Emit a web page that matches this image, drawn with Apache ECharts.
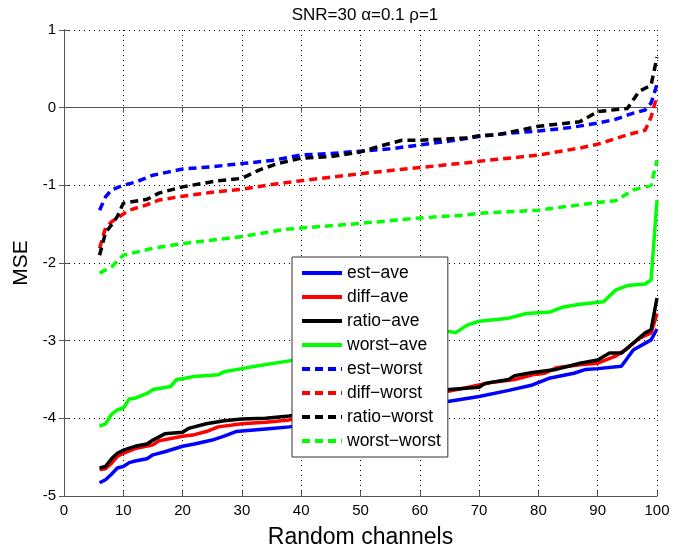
<!DOCTYPE html>
<html>
<head>
<meta charset="utf-8">
<script src="https://cdn.jsdelivr.net/npm/echarts@6/dist/echarts.min.js"></script>
<style>
  html, body { margin: 0; padding: 0; background: #fff; }
  #main { width: 694px; height: 548px; }
</style>
</head>
<body>
<div id="main"></div>
<script>
// values, [channel, MSE]
var estAve = [[6,-4.83],[7,-4.79],[8,-4.72],[9,-4.64],[10,-4.62],[11,-4.57],[12,-4.55],[14,-4.52],[15,-4.47],[17,-4.43],[20,-4.36],[22,-4.33],[25,-4.28],[27,-4.23],[29,-4.17],[32,-4.15],[35,-4.13],[38,-4.11],
  [65,-3.78],[70,-3.72],[75,-3.64],[79,-3.57],[82,-3.48],[86,-3.42],[88,-3.37],[90,-3.36],[94,-3.33],[96,-3.12],[99,-2.99],[100,-2.85]];
var diffAve = [[6,-4.66],[7,-4.65],[8,-4.58],[9,-4.49],[10,-4.45],[12,-4.39],[15,-4.34],[16,-4.29],[18,-4.26],[20,-4.23],[22,-4.21],[24,-4.17],[26,-4.11],[30,-4.07],[34,-4.05],[38,-4.02],
  [65,-3.65],[70,-3.57],[72,-3.54],[76,-3.50],[79,-3.44],[81,-3.42],[83,-3.35],[87,-3.31],[90,-3.29],[93,-3.20],[95,-3.10],[97,-2.97],[99,-2.90],[100,-2.65]];
var ratioAve = [[6,-4.64],[7,-4.62],[8,-4.52],[9,-4.45],[10,-4.41],[12,-4.36],[14,-4.33],[15,-4.28],[17,-4.20],[20,-4.18],[21,-4.13],[24,-4.07],[27,-4.03],[30,-4.01],[34,-4.00],[38,-3.97],
  [65,-3.63],[70,-3.60],[71,-3.55],[75,-3.50],[76,-3.45],[79,-3.41],[83,-3.37],[87,-3.29],[90,-3.25],[92,-3.16],[94,-3.16],[96,-3.03],[98,-2.90],[99,-2.86],[100,-2.45]];
var worstAve = [[6,-4.10],[7,-4.07],[8,-3.95],[9,-3.89],[10,-3.87],[11,-3.75],[12,-3.74],[14,-3.68],[15,-3.63],[18,-3.59],[19,-3.50],[20,-3.49],[22,-3.46],[26,-3.44],[27,-3.40],[30,-3.36],[33,-3.32],[38,-3.26],
  [65,-2.88],[66,-2.90],[68,-2.80],[70,-2.75],[75,-2.71],[78,-2.65],[82,-2.63],[84,-2.57],[87,-2.53],[91,-2.50],[93,-2.35],[95,-2.29],[98,-2.27],[99,-2.22],[100,-1.19]];
var estWorst = [[6,-1.32],[7,-1.15],[8,-1.06],[9,-1.03],[10,-1.00],[12,-0.96],[15,-0.87],[20,-0.79],[25,-0.76],[30,-0.72],[35,-0.68],[40,-0.61],[45,-0.59],[50,-0.56],[55,-0.53],[60,-0.48],[65,-0.43],
  [70,-0.37],[75,-0.33],[80,-0.30],[85,-0.26],[90,-0.20],[93,-0.15],[96,-0.07],[98,-0.03],[99,0.06],[100,0.30]];
var diffWorst = [[6,-1.81],[7,-1.55],[8,-1.47],[10,-1.37],[11,-1.32],[14,-1.25],[16,-1.19],[20,-1.14],[26,-1.08],[30,-1.05],[36,-0.98],[40,-0.94],[50,-0.85],[60,-0.77],[68,-0.71],
  [70,-0.69],[80,-0.61],[87,-0.52],[90,-0.47],[95,-0.35],[98,-0.29],[99,-0.12],[100,0.15]];
var ratioWorst = [[6,-1.90],[7,-1.61],[8,-1.51],[9,-1.40],[10,-1.23],[14,-1.18],[16,-1.10],[20,-1.02],[26,-0.94],[30,-0.91],[33,-0.80],[36,-0.72],[40,-0.65],[45,-0.63],[50,-0.57],[53,-0.50],[57,-0.42],[60,-0.42],
  [68,-0.39],[70,-0.36],[73,-0.35],[80,-0.24],[87,-0.18],[90,-0.05],[95,-0.01],[97,0.21],[99,0.29],[100,0.65]];
var worstWorst = [[6,-2.13],[8,-2.05],[10,-1.90],[15,-1.81],[20,-1.75],[30,-1.66],[37,-1.57],[40,-1.55],[50,-1.49],[60,-1.42],[68,-1.38],
  [70,-1.36],[80,-1.32],[90,-1.22],[93,-1.20],[96,-1.06],[99,-1.00],[100,-0.68]];

var names = ['est\u2212ave', 'diff\u2212ave', 'ratio\u2212ave', 'worst\u2212ave', 'est\u2212worst', 'diff\u2212worst', 'ratio\u2212worst', 'worst\u2212worst'];
var colors = ['#0000ff', '#ff0000', '#000000', '#00ff00', '#0000ff', '#ff0000', '#000000', '#00ff00'];
var allData = [estAve, diffAve, ratioAve, worstAve, estWorst, diffWorst, ratioWorst, worstWorst];

var FONT = 'Liberation Sans, Arial, sans-serif';
var chart = echarts.init(document.getElementById('main'));

var series = allData.map(function (d, i) {
  var dashed = i >= 4;
  return {
    name: names[i],
    type: 'line',
    data: d,
    symbol: 'none',
    color: colors[i],
    lineStyle: { color: colors[i], width: 3.5, type: dashed ? [8, 5] : 'solid' },
    animation: false
  };
});

var gridLine = { show: true, lineStyle: { color: '#000', width: 1, type: [1, 4] } };

chart.setOption({
  animation: false,
  title: {
    text: 'SNR=30 \u03b1=0.1 \u03c1=1',
    left: 360, top: 2, textAlign: 'center',
    textStyle: { fontFamily: FONT, fontSize: 17, fontWeight: 'normal', color: '#000' }
  },
  grid: { left: 64, right: 37, top: 30, bottom: 52, outerBoundsMode: 'none' },
  legend: {
    orient: 'vertical',
    left: 292, top: 257,
    backgroundColor: '#fff',
    borderColor: '#333',
    borderWidth: 1,
    padding: [7, 7, 7, 8],
    itemWidth: 40,
    itemHeight: 14,
    itemGap: 6,
    align: 'left',
    itemStyle: { opacity: 0 },
    lineStyle: { width: 4 },
    textStyle: { fontFamily: FONT, fontSize: 17.5, color: '#000' },
    data: names
  },
  xAxis: [{
    type: 'value', min: 0, max: 100, interval: 10,
    name: 'Random channels', nameLocation: 'middle', nameGap: 30,
    nameTextStyle: { fontFamily: FONT, fontSize: 23, color: '#000' },
    axisLine: { show: true, onZero: false, lineStyle: { color: '#555' } },
    axisTick: { show: true, inside: true, length: 5, lineStyle: { color: '#555' } },
    axisLabel: { fontFamily: FONT, fontSize: 15, color: '#000', margin: 7 },
    splitLine: gridLine
  }, {
    type: 'value', min: 0, max: 100, interval: 10, position: 'top',
    axisLine: { show: true, lineStyle: { color: '#555' } },
    axisTick: { show: true, inside: true, length: 5, lineStyle: { color: '#555' } },
    axisLabel: { show: false }, splitLine: { show: false }
  }],
  yAxis: [{
    type: 'value', min: -5, max: 1, interval: 1,
    name: 'MSE', nameLocation: 'middle', nameGap: 30, nameRotate: 90,
    nameTextStyle: { fontFamily: FONT, fontSize: 21, color: '#000' },
    axisLine: { show: true, onZero: false, lineStyle: { color: '#555' } },
    axisTick: { show: true, inside: true, length: 5, lineStyle: { color: '#555' } },
    axisLabel: { fontFamily: FONT, fontSize: 15, color: '#000', margin: 8 },
    splitLine: gridLine
  }, {
    type: 'value', min: -5, max: 1, interval: 1, position: 'right',
    axisLine: { show: true, lineStyle: { color: '#555' } },
    axisTick: { show: true, inside: true, length: 5, lineStyle: { color: '#555' } },
    axisLabel: { show: false }, splitLine: { show: false }
  }],
  series: series
});
</script>
</body>
</html>
